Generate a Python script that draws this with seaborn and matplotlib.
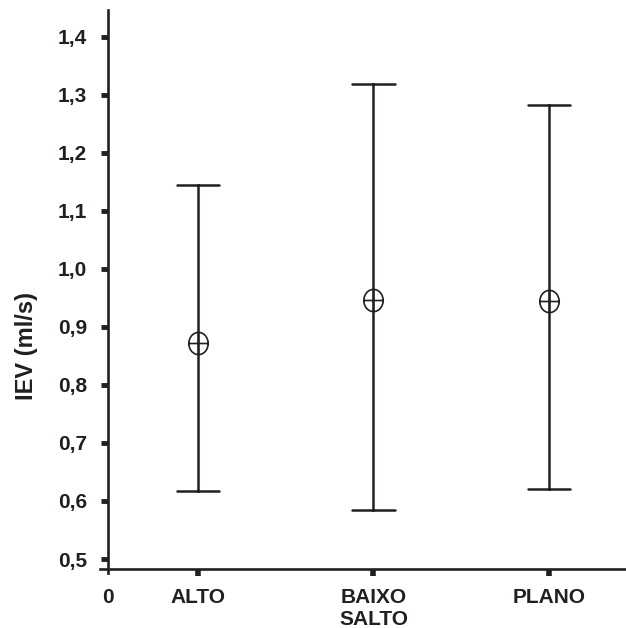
import matplotlib
matplotlib.use("Agg")
import matplotlib.pyplot as plt
from matplotlib.path import Path
import numpy as np
import pandas as pd
import seaborn as sns

categories = ["ALTO", "BAIXO\nSALTO", "PLANO"]
means = [0.873, 0.946, 0.945]
lower = [0.617, 0.584, 0.621]
upper = [1.144, 1.319, 1.283]
ytick_values = [0.5, 0.6, 0.7, 0.8, 0.9, 1.0, 1.1, 1.2, 1.3, 1.4]
ytick_labels = ["0,5", "0,6", "0,7", "0,8", "0,9", "1,0", "1,1", "1,2", "1,3", "1,4"]

rows = []
for c, lo, m, hi in zip(categories, lower, means, upper):
    for v in (lo, m, hi):
        rows.append({"grupo": c, "IEV": v})
df = pd.DataFrame(rows)

sns.set_theme(style="white")
plt.rcParams["font.family"] = ["Liberation Sans", "DejaVu Sans"]
plt.rcParams["font.weight"] = "bold"

ink = "#231f20"

fig = plt.figure(figsize=(6.26, 6.28), dpi=100)
ax = fig.add_axes([100 / 626, 55 / 628, 526 / 626, 563 / 628])

# circle-plus marker (slightly taller than wide)
circ = Path.unit_circle()
circ = Path(circ.vertices * np.array([0.87, 1.0]), circ.codes)
hline = Path([[-0.87, 0], [0.87, 0]], [Path.MOVETO, Path.LINETO])
vline = Path([[0, -1], [0, 1]], [Path.MOVETO, Path.LINETO])
oplus = Path.make_compound_path(circ, hline, vline)

sns.pointplot(
    data=df, x="grupo", y="IEV", order=categories, ax=ax,
    estimator="median", errorbar=lambda v: (v.min(), v.max()),
    color=ink, linestyle="none", capsize=0.24,
    err_kws={"linewidth": 1.8},
    marker=oplus, markersize=16, markerfacecolor="none",
    markeredgecolor=ink, markeredgewidth=1.2,
)

ax.set_xlim(-0.558, 2.439)
ax.set_ylim(0.4759, 1.446)

for s in ["top", "right"]:
    ax.spines[s].set_visible(False)
ax.spines["left"].set_position(("data", -0.513))
ax.spines["bottom"].set_position(("data", 0.4836))
for s in ["left", "bottom"]:
    ax.spines[s].set_color(ink)
    ax.spines[s].set_linewidth(1.9)

ax.set_yticks(ytick_values)
ax.set_yticklabels(ytick_labels)
ax.set_xticks([-0.513, 0, 1, 2])
ax.set_xticklabels(["0"] + categories, linespacing=1.2)

ax.tick_params(axis="y", left=True, direction="out", length=5, width=3.5, color=ink,
               pad=10, labelsize=15, labelcolor=ink)
ax.tick_params(axis="x", bottom=True, direction="out", length=5, width=4, color=ink,
               pad=9, labelsize=15, labelcolor=ink)
xt = ax.xaxis.get_major_ticks()
xt[0].tick1line.set_visible(False)
for lab in ax.get_xticklabels() + ax.get_yticklabels():
    lab.set_fontweight("bold")

ax.set_xlabel("")
ax.set_ylabel("IEV (ml/s)", fontsize=17, fontweight="bold", color=ink)
ax.yaxis.set_label_coords(-0.118, 0.403)

fig.savefig("out.png", dpi=100)
